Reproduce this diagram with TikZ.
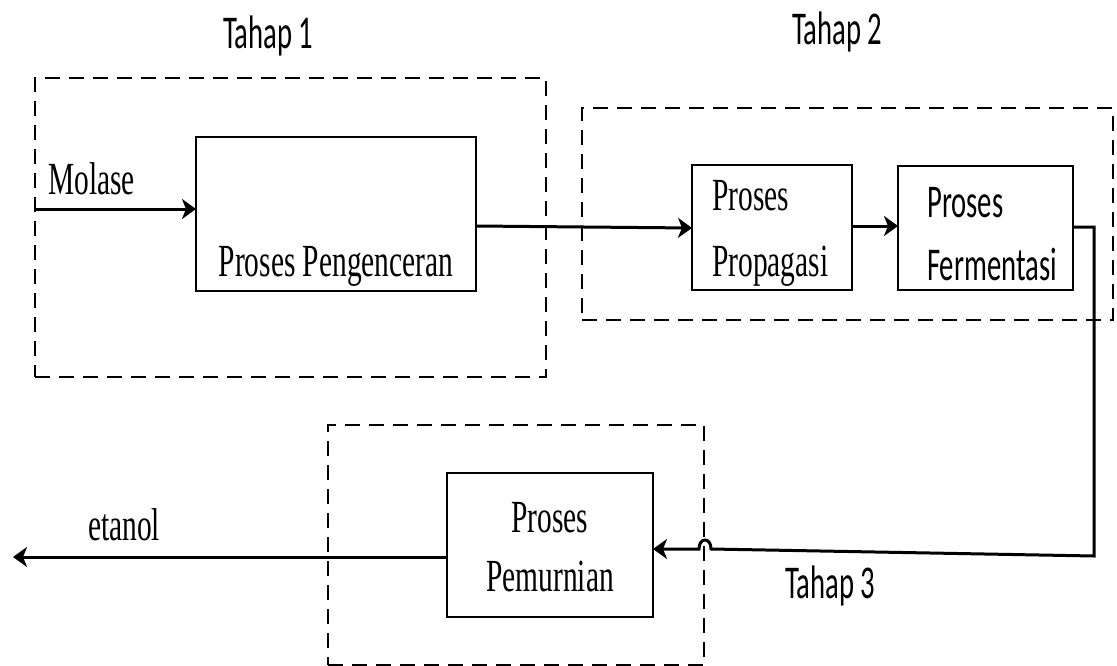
\documentclass[tikz,border=0pt]{standalone}
\usepackage{fontspec}
\usetikzlibrary{arrows.meta}
\newfontfamily\serifc[FakeStretch=0.64]{Liberation Serif}
\newfontfamily\sansc[FakeStretch=0.61]{Carlito}
\begin{document}
\begin{tikzpicture}[x=1pt,y=-1pt,
 procbox/.style={draw, line width=2.6pt, inner sep=0pt, outer sep=0pt},
 stagebox/.style={draw, line width=2pt, dash pattern=on 15pt off 9pt, inner sep=0pt, outer sep=0pt},
 lbl/.style={inner sep=0pt, font=\serifc\fontsize{46}{50}\selectfont},
 slbl/.style={inner sep=0pt, font=\sansc\fontsize{47}{50}\selectfont},
 conn/.style={line width=3pt},
 arr/.style={conn, -{Stealth[length=14pt,width=20pt,inset=4pt]}},
]
\useasboundingbox (0,0) rectangle (1117,666);
% stage boxes
\node[stagebox, minimum width=511, minimum height=299] (s1) at (290.5,227.5) {};
\node[stagebox, minimum width=531, minimum height=212] (s2) at (847.5,214) {};
\node[stagebox, minimum width=376, minimum height=240] (s3) at (516,545) {};
% process boxes
\node[procbox, minimum width=280, minimum height=154] (pen) at (336,214) {};
\node[procbox, minimum width=160, minimum height=125] (prop) at (772,227.5) {};
\node[procbox, minimum width=175, minimum height=124] (ferm) at (985.5,228) {};
\node[procbox, minimum width=206, minimum height=144] (pem) at (550,545) {};
% labels
\node[slbl, anchor=base west] (t1) at (223,49) {Tahap 1};
\node[slbl, anchor=base west] (t2) at (792,45) {Tahap 2};
\node[slbl, anchor=base west] (t3) at (785,598) {Tahap 3};
\node[lbl, anchor=base west] (mol) at (48,195) {Molase};
\node[lbl, anchor=base west] (eta) at (88,540) {etanol};
\node[lbl, anchor=base] (penT) at (336,276) {Proses Pengenceran};
\node[lbl, anchor=base west] (propA) at (712,211) {Proses};
\node[lbl, anchor=base west] (propB) at (712,276) {Propagasi};
\node[slbl, anchor=base west] (fermA) at (927,217) {Proses};
\node[slbl, anchor=base west] (fermB) at (927,280) {Fermentasi};
\node[lbl, anchor=base] (pemA) at (550,532) {Proses};
\node[lbl, anchor=base] (pemB) at (550,591) {Pemurnian};
% connectors
\coordinate (molin) at (34,209);
\coordinate (etend) at (13,557);
\coordinate (turnA) at (1094,227);
\coordinate (turnB) at (1094,556);
\coordinate (hopR) at (711,549);
\coordinate (hopL) at (699,549);
\draw[arr] (molin) -- (pen.west |- molin);
\draw[arr] (pen.east |- 0,226) -- (prop.west |- 0,228);
\draw[arr] (prop.east |- 0,226) -- (ferm.west |- 0,226);
\draw[arr] (ferm.east |- turnA) -- (turnA) -- (turnB) -- (hopR)
  .. controls (711,537) and (699,537) .. (hopL) -- (pem.east |- hopL);
\draw[arr] (pem.west |- etend) -- (etend);
\end{tikzpicture}
\end{document}
